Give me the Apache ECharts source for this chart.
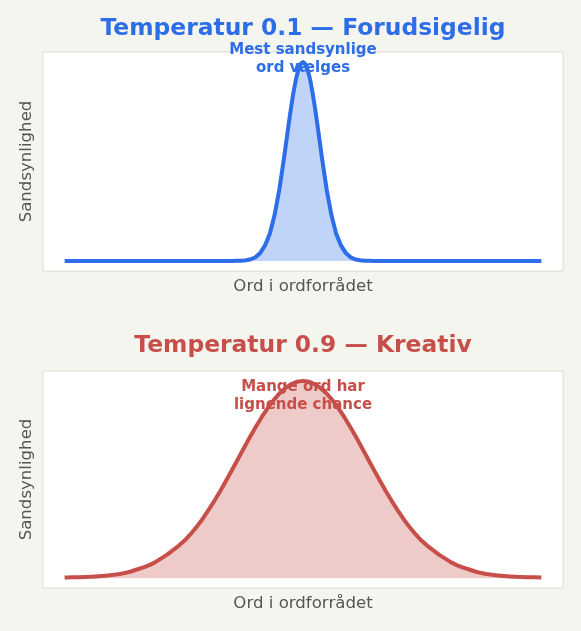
<!DOCTYPE html>
<html>
<head>
<meta charset="utf-8">
<script src="https://cdn.jsdelivr.net/npm/echarts@6/dist/echarts.min.js"></script>
<style>
html,body{margin:0;padding:0;background:#f5f5f0;}
#c{width:581px;height:631px;}
</style>
</head>
<body>
<div id="c"></div>
<script>
// Top panel (temperature 0.1): word position vs relative probability
const topX = [-5, -3, -2, -1.5, -1.4, -1.3, -1.2, -1.1, -1.0, -0.9, -0.8, -0.7, -0.6, -0.5, -0.4, -0.3, -0.25, -0.2, -0.15, -0.1, -0.05, 0,
              0.05, 0.1, 0.15, 0.2, 0.25, 0.3, 0.4, 0.5, 0.6, 0.7, 0.8, 0.9, 1.0, 1.1, 1.2, 1.3, 1.4, 1.5, 2, 3, 5];
const topY = [0, 0, 0, 0, 0.001, 0.002, 0.004, 0.009, 0.02, 0.042, 0.08, 0.138, 0.232, 0.36, 0.52, 0.693, 0.775, 0.849, 0.912, 0.96, 0.99, 1.0,
              0.99, 0.96, 0.912, 0.849, 0.775, 0.693, 0.52, 0.36, 0.232, 0.138, 0.08, 0.042, 0.02, 0.009, 0.004, 0.002, 0.001, 0, 0, 0, 0];
// Bottom panel (temperature 0.9)
const botX = [-5, -4.875, -4.75, -4.625, -4.5, -4.375, -4.25, -4.125, -4, -3.875, -3.75, -3.625, -3.5, -3.375, -3.25, -3.125,
              -3, -2.875, -2.75, -2.625, -2.5, -2.375, -2.25, -2.125, -2, -1.875, -1.75, -1.625, -1.5, -1.375, -1.25, -1.125,
              -1, -0.875, -0.75, -0.625, -0.5, -0.375, -0.25, -0.125, 0,
              0.125, 0.25, 0.375, 0.5, 0.625, 0.75, 0.875, 1, 1.125, 1.25, 1.375, 1.5, 1.625, 1.75, 1.875,
              2, 2.125, 2.25, 2.375, 2.5, 2.625, 2.75, 2.875, 3, 3.125, 3.25, 3.375, 3.5, 3.625, 3.75, 3.875,
              4, 4.125, 4.25, 4.375, 4.5, 4.625, 4.75, 4.875, 5];
const botY = [0.003, 0.004, 0.005, 0.006, 0.007, 0.0088, 0.011, 0.0137, 0.017, 0.0214, 0.027, 0.035, 0.045, 0.0545, 0.066, 0.081,
              0.1, 0.119, 0.142, 0.165, 0.192, 0.224, 0.26, 0.3, 0.345, 0.392, 0.442, 0.495, 0.549, 0.604, 0.66, 0.714,
              0.766, 0.816, 0.861, 0.901, 0.936, 0.963, 0.983, 0.996, 1.0,
              0.996, 0.983, 0.963, 0.936, 0.901, 0.861, 0.816, 0.766, 0.714, 0.66, 0.604, 0.549, 0.495, 0.442, 0.392,
              0.345, 0.3, 0.26, 0.224, 0.192, 0.165, 0.142, 0.119, 0.1, 0.081, 0.066, 0.0545, 0.045, 0.035, 0.027, 0.0214,
              0.017, 0.0137, 0.011, 0.0088, 0.007, 0.006, 0.005, 0.004, 0.003];

const titles = ['Temperatur 0.1 — Forudsigelig', 'Temperatur 0.9 — Kreativ'];
const notes = ['Mest sandsynlige\nord vælges', 'Mange ord har\nlignende chance'];
const xName = 'Ord i ordforrådet';
const yName = 'Sandsynlighed';

const BLUE = '#2d6ee8', RED = '#c64f4a';
const FONT = 'DejaVu Sans';

const chart = echarts.init(document.getElementById('c'), null, {renderer: 'canvas'});

function xAx(idx) {
  return {
    type: 'value', gridIndex: idx, min: -5.5, max: 5.5,
    axisLine: {show: false}, axisTick: {show: false}, axisLabel: {show: false}, splitLine: {show: false},
    name: xName, nameLocation: 'middle', nameGap: 7,
    nameTextStyle: {fontFamily: FONT, fontSize: 16.6, color: '#555555', verticalAlign: 'top'}
  };
}
function yAx(idx) {
  return {
    type: 'value', gridIndex: idx, min: -0.05, max: 1.05,
    axisLine: {show: false}, axisTick: {show: false}, axisLabel: {show: false}, splitLine: {show: false},
    name: yName, nameLocation: 'middle', nameGap: 8, nameRotate: 90,
    nameTextStyle: {fontFamily: FONT, fontSize: 16.6, color: '#555555'}
  };
}

chart.setOption({
  backgroundColor: '#f5f5f0',
  animation: false,
  title: [
    {text: titles[0], left: 303, top: 17, padding: 0, textAlign: 'center',
     textStyle: {fontFamily: FONT, fontSize: 23.4, fontWeight: 'bold', color: BLUE}},
    {text: titles[1], left: 303, top: 334, padding: 0, textAlign: 'center',
     textStyle: {fontFamily: FONT, fontSize: 23.4, fontWeight: 'bold', color: RED}},
    {text: notes[0], left: 303, top: 41, padding: 0, textAlign: 'center',
     textStyle: {fontFamily: FONT, fontSize: 15, fontWeight: 'bold', color: BLUE, lineHeight: 18}},
    {text: notes[1], left: 303, top: 378, padding: 0, textAlign: 'center',
     textStyle: {fontFamily: FONT, fontSize: 15, fontWeight: 'bold', color: RED, lineHeight: 18}}
  ],
  grid: [
    {left: 43, top: 52, width: 520, height: 219, show: true, backgroundColor: '#ffffff', borderColor: '#dcdcd6', borderWidth: 1},
    {left: 43, top: 371, width: 520, height: 217, show: true, backgroundColor: '#ffffff', borderColor: '#dcdcd6', borderWidth: 1}
  ],
  xAxis: [xAx(0), xAx(1)],
  yAxis: [yAx(0), yAx(1)],
  series: [
    {type: 'line', xAxisIndex: 0, yAxisIndex: 0, data: topX.map((x, i) => [x, topY[i]]),
     showSymbol: false, smooth: false, lineStyle: {color: BLUE, width: 4, join: 'round', cap: 'square'},
     areaStyle: {color: BLUE, opacity: 0.3}},
    {type: 'line', xAxisIndex: 1, yAxisIndex: 1, data: botX.map((x, i) => [x, botY[i]]),
     showSymbol: false, smooth: false, lineStyle: {color: RED, width: 4, join: 'round', cap: 'square'},
     areaStyle: {color: RED, opacity: 0.3}}
  ]
});
</script>
</body>
</html>
